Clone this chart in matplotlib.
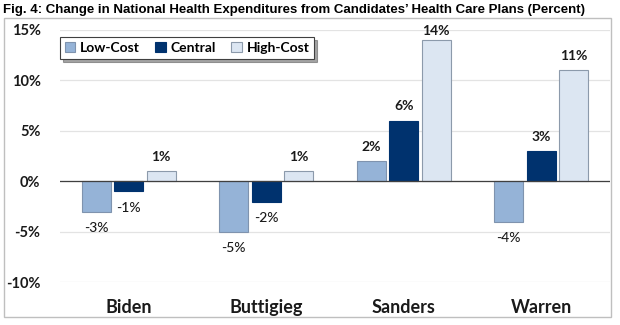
import numpy as np
import matplotlib
matplotlib.use("Agg")
import matplotlib.pyplot as plt
from matplotlib.patches import Rectangle

# data (percent change)
candidates = ["Biden", "Buttigieg", "Sanders", "Warren"]
low_cost = [-3, -5, 2, -4]
central = [-1, -2, 6, 3]
high_cost = [1, 1, 14, 11]
series_names = ["Low-Cost", "Central", "High-Cost"]
yticks = [-10, -5, 0, 5, 10, 15]

colors = ["#95B3D7", "#00326E", "#DCE6F2"]
edges = ["#7F93AE", "#00326E", "#8C9AAB"]

plt.rcParams["font.family"] = ["Lato", "DejaVu Sans"]

fig = plt.figure(figsize=(6.2, 3.25), dpi=100)
W, H = 620.0, 325.0
ax = fig.add_axes([60 / W, 1 - 282.3 / H, 550 / W, (282.3 - 29.8) / H])

x = np.arange(len(candidates))
bw = 0.213
step = 0.236
for k, vals in enumerate([low_cost, central, high_cost]):
    pos = x + (k - 1) * step
    ax.bar(pos, vals, bw, color=colors[k], edgecolor=edges[k], linewidth=0.8,
           label=series_names[k], zorder=3)
    for px, v in zip(pos, vals):
        if v >= 0:
            ax.text(px, min(v + 1.43, 14.9), f"{v}%", ha="center", va="center",
                    fontsize=10, fontweight="bold", color="#1a1a1a", zorder=4)
        else:
            ax.text(px, v - 1.65, f"{v}%", ha="center", va="center",
                    fontsize=10, fontweight="medium", color="#1a1a1a", zorder=4)

ax.set_xlim(-0.5, 3.5)
ax.set_ylim(-10, 15)
ax.set_yticks(yticks)
ax.set_yticklabels([f"{t}%" for t in yticks], fontsize=10.5, fontweight="bold")
ax.yaxis.grid(True, color="#E3E3E3", linewidth=0.9, zorder=0)
ax.axhline(0, color="#404040", linewidth=0.9, zorder=3.5)
ax.set_xticks(x)
ax.set_xticklabels(candidates, fontsize=13, fontweight="bold")
ax.tick_params(axis="both", length=0, colors="#1a1a1a")
ax.tick_params(axis="y", pad=14)
ax.tick_params(axis="x", pad=12)
for s in ax.spines.values():
    s.set_visible(False)

leg = ax.legend(loc="upper left", bbox_to_anchor=(60 / W, 1 - 37 / H),
                bbox_transform=fig.transFigure, ncol=3, frameon=True,
                fancybox=False, shadow=True, prop={"weight": "bold", "size": 10},
                handlelength=0.75, handleheight=0.75, handletextpad=0.35,
                columnspacing=1.1, borderpad=0.35, borderaxespad=0)
leg.get_frame().set_edgecolor("#404040")
leg.get_frame().set_linewidth(0.8)

# outer chart border
fig.patches.append(Rectangle((4 / W, 1 - 316.7 / H), 607 / W, 298.7 / H,
                             transform=fig.transFigure, fill=False,
                             edgecolor="#BFBFBF", linewidth=1))

fig.text(3 / W, 1 - 10 / H,
         "Fig. 4: Change in National Health Expenditures from Candidates\u2019 Health Care Plans (Percent)",
         ha="left", va="center", fontsize=9.5, fontweight="bold",
         family="Liberation Sans")

fig.savefig("out.png", dpi=100)
